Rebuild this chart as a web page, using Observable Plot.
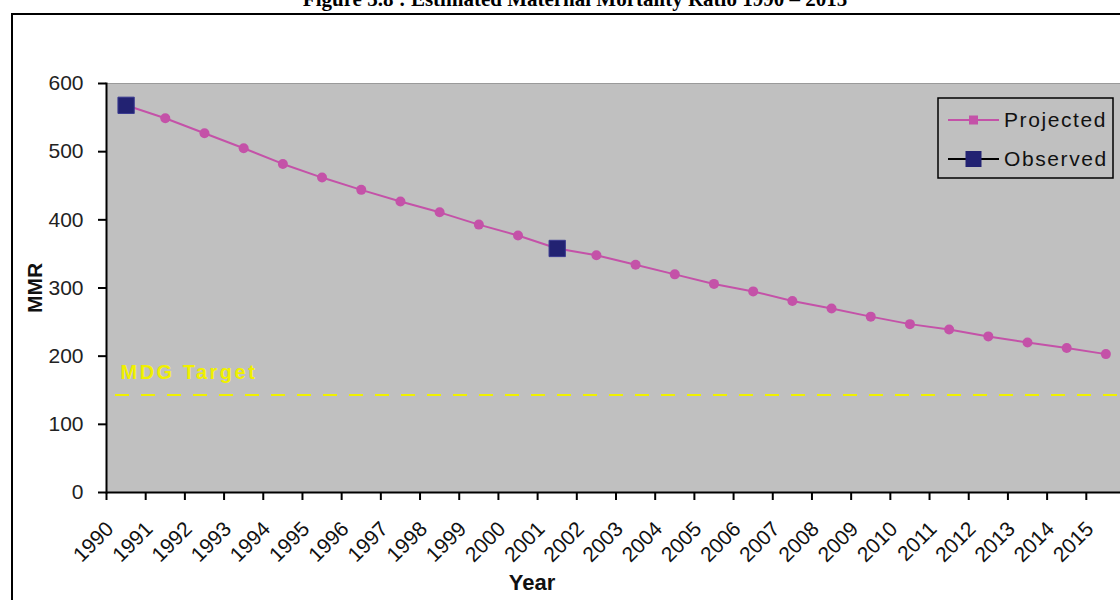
<!DOCTYPE html>
<html><head><meta charset="utf-8">
<script src="https://cdn.jsdelivr.net/npm/d3@7"></script>
<script src="https://cdn.jsdelivr.net/npm/@observablehq/plot@0.6"></script>
<style>
body{margin:0;background:#fff;}
#wrap{position:relative;width:1120px;height:600px;overflow:hidden;font-family:"Liberation Sans",Arial,sans-serif;}
#title{position:absolute;top:-13px;left:0;width:1150px;text-align:center;font:bold 21px "Liberation Serif","Times New Roman",serif;white-space:nowrap;color:#000;}
#border{position:absolute;left:11px;top:13px;width:1200px;height:700px;border:2px solid #000;box-sizing:border-box;}
#chart{position:absolute;left:0;top:0;}
#legend{position:absolute;left:937px;top:97px;}
</style></head><body>
<div id="wrap">
  <div id="border"></div>
  <div id="title">Figure 3.8 : Estimated Maternal Mortality Ratio 1990 – 2015</div>
  <div id="chart"></div>
  <div id="legend"></div>
</div>
<script>
const years = [1990,1991,1992,1993,1994,1995,1996,1997,1998,1999,2000,2001,2002,2003,2004,2005,2006,2007,2008,2009,2010,2011,2012,2013,2014,2015];
const projected = [568,549,527,505,482,462,444,427,411,393,377,358,348,334,320,306,295,281,270,258,247,239,229,220,212,203];
const observedYears = [1990,2001];
const observed = [568,358];
const mdgTarget = 143;
const mdgLabel = "MDG Target";
const yTicks = [0,100,200,300,400,500,600];
const seriesNames = ["Projected","Observed"];

const projColor = "#C452A8";
const obsColor = "#222272";
const targetColor = "#F0F000";

const proj = years.map((y,i)=>({year:y, mmr:projected[i]}));
const obs = observedYears.map((y,i)=>({year:y, mmr:observed[i]}));
const boundaries = years.map(y=>y-0.5).concat([years[years.length-1]+0.5]);

const chart = Plot.plot({
  width:1120, height:600,
  marginLeft:106, marginRight:-5, marginTop:83, marginBottom:108,
  style:{background:"transparent", fontFamily:"Liberation Sans, Arial, sans-serif", overflow:"visible", color:"#000"},
  x:{type:"linear", domain:[years[0]-0.5, years[years.length-1]+0.5]},
  y:{domain:[0,600]},
  marks:[
    Plot.frame({fill:"#C0C0C0", stroke:"#9a9a9a"}),
    Plot.ruleY([mdgTarget], {stroke:targetColor, strokeWidth:2, strokeDasharray:"14,12", insetLeft:9}),
    Plot.text([mdgTarget], {y:d=>d, text:()=>mdgLabel, frameAnchor:"left", dx:14, dy:-22, textAnchor:"start", fill:targetColor, fontWeight:"bold", fontSize:20}),
    Plot.line(proj, {x:"year", y:"mmr", stroke:projColor, strokeWidth:2}),
    Plot.dot(proj, {x:"year", y:"mmr", fill:projColor, r:5}),
    Plot.dot(obs, {x:"year", y:"mmr", symbol:"square", fill:obsColor, stroke:"#3a3a90", strokeWidth:1, r:9.2}),
    Plot.ruleY([0], {stroke:"#000", strokeWidth:2}),
    Plot.frame({anchor:"left", stroke:"#000", strokeWidth:2}),
    Plot.axisY({ticks:yTicks, tickSize:8, tickPadding:15, fontSize:21, label:null, stroke:"#000", strokeWidth:2, fill:"#222"}),
    Plot.axisX({ticks:boundaries, tickSize:8, fill:"none", stroke:"#000", strokeWidth:2, label:null}),
    Plot.axisX({ticks:years, tickSize:0, tickRotate:-45, tickPadding:33, dx:-16, fontSize:21, label:null, tickFormat:d=>String(d), fill:"#111"}),
    Plot.text(["Year"], {frameAnchor:"bottom", dx:-84, dy:97, fontWeight:"bold", fontSize:22, fill:"#111"}),
    Plot.text(["MMR"], {frameAnchor:"left", dx:-71, rotate:-90, textAnchor:"middle", fontWeight:"bold", fontSize:21, fill:"#111"})
  ]
});
d3.select(chart).selectAll("text").filter(function(){ return this.textContent === mdgLabel; }).style("letter-spacing","2.5px");
document.getElementById("chart").appendChild(chart);

// legend
const lg = d3.select("#legend").append("svg").attr("width",178).attr("height",82);
lg.append("rect").attr("x",1).attr("y",1).attr("width",175).attr("height",80).attr("fill","#C0C0C0").attr("stroke","#000").attr("stroke-width",1.5);
const rows = [
  {name:seriesNames[0], y:23, line:projColor, fill:projColor, size:9},
  {name:seriesNames[1], y:62, line:"#000", fill:obsColor, size:16}
];
rows.forEach(r=>{
  lg.append("line").attr("x1",11).attr("x2",62).attr("y1",r.y).attr("y2",r.y).attr("stroke",r.line).attr("stroke-width",2);
  lg.append("rect").attr("x",36.5-r.size/2).attr("y",r.y-r.size/2).attr("width",r.size).attr("height",r.size).attr("fill",r.fill);
  lg.append("text").attr("x",67).attr("y",r.y+7).attr("font-size",21).attr("letter-spacing",1.6).attr("font-family","Liberation Sans, Arial, sans-serif").attr("fill","#111").text(r.name);
});
</script>
</body></html>
